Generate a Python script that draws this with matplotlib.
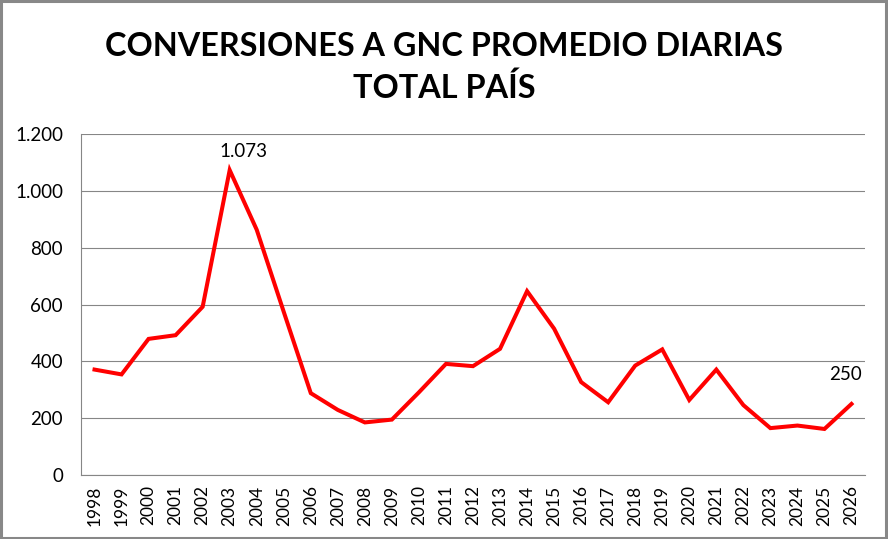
import matplotlib
matplotlib.use("Agg")
import matplotlib.pyplot as plt
from matplotlib.patches import Rectangle

years = [str(y) for y in range(1998, 2027)]
values = [371, 354, 479, 492, 592, 1073, 863, 574, 288, 229, 185, 195, 291, 391,
          383, 444, 647, 515, 327, 256, 385, 442, 264, 371, 246, 165, 174, 162, 250]
yticks = [0, 200, 400, 600, 800, 1000, 1200]
ytick_labels = ["0", "200", "400", "600", "800", "1.000", "1.200"]
title_lines = ["CONVERSIONES A GNC PROMEDIO DIARIAS", "TOTAL PAÍS"]

plt.rcParams['font.family'] = ['Lato', 'DejaVu Sans']

fig = plt.figure(figsize=(8.88, 5.39), dpi=100)
ax = fig.add_axes([81/888, (539-475)/539, (865-81)/888, (475-134)/539])

x = list(range(len(years)))
ax.plot(x, values, color="#FF0000", linewidth=2.9, solid_joinstyle="miter", zorder=3)

ax.set_xlim(-0.5, len(years) - 0.5)
ax.set_ylim(0, 1200)
ax.set_yticks(yticks)
ax.set_yticklabels(ytick_labels, fontsize=13.5)
ax.set_xticks(x)
ax.set_xticklabels(years, rotation=90, fontsize=12.5)
ax.tick_params(axis="both", length=0, colors="black")
ax.tick_params(axis="y", pad=13)
ax.tick_params(axis="x", pad=7.5)
ax.grid(axis="y", color="#868686", linewidth=0.8)
ax.set_axisbelow(True)
for s in ["top", "right"]:
    ax.spines[s].set_visible(False)
for s in ["left", "bottom"]:
    ax.spines[s].set_color("#868686")
    ax.spines[s].set_linewidth(0.8)

i_max = values.index(max(values))
ax.annotate(f"{values[i_max]/1000:.3f}", (i_max, values[i_max]), xytext=(10, 7),
            textcoords="offset points", ha="center", va="bottom", fontsize=13.5)
ax.annotate(str(values[-1]), (len(values) - 1, values[-1]), xytext=(-4, 15),
            textcoords="offset points", ha="center", va="bottom", fontsize=13.5)

fig.text(0.5, 1 - 47/539, title_lines[0], ha="center", va="center",
         fontsize=23.3, fontweight="bold")
fig.text(0.5, 1 - 88/539, title_lines[1], ha="center", va="center",
         fontsize=23.3, fontweight="bold")

fig.patches.append(Rectangle((0.001, 0.002), 0.997, 0.996, transform=fig.transFigure,
                             fill=False, edgecolor="#888888", linewidth=2.2))

fig.savefig("out.png", dpi=100)
